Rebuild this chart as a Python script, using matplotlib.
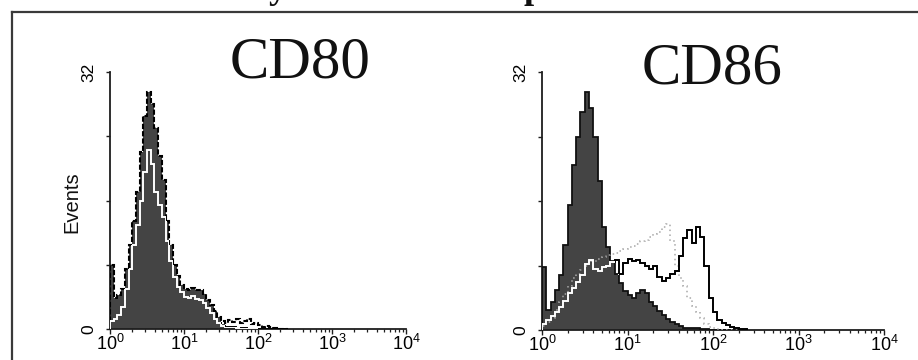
import numpy as np
import matplotlib
matplotlib.use("Agg")
import matplotlib.pyplot as plt
from matplotlib.ticker import FixedLocator, LogLocator, NullFormatter, FixedFormatter
from matplotlib.lines import Line2D
from matplotlib.transforms import offset_copy

plt.rcParams["font.family"] = ["Liberation Sans", "DejaVu Sans"]
plt.rcParams["mathtext.fontset"] = "custom"
plt.rcParams["mathtext.rm"] = "Liberation Sans"
plt.rcParams["mathtext.it"] = "Liberation Sans:italic"

# channel grid: 0.05-decade bins starting at 10^0
bin_width_decades = 0.05
n_bins = 48

# CD80 panel: filled control, its dashed outline (with tail) and the stained overlay
cd80_filled = [8.0, 3.8, 4.2, 5.0, 7.5, 10.5, 13.5, 17.0, 22.0, 26.5,
               29.5, 28.0, 25.0, 21.5, 18.5, 13.5, 10.5, 8.0, 6.6, 5.5,
               5.0, 4.9, 5.1, 4.8, 4.9, 4.4, 3.6, 3.0, 2.2, 1.5,
               0.6, 0.3, 0.2, 0.2, 0.2, 0.1, 0.1, 0.1, 0.1, 0.1,
               0, 0, 0, 0, 0, 0, 0, 0]
cd80_outline = [8.0, 3.8, 4.2, 5.0, 7.5, 10.5, 13.5, 17.0, 22.0, 26.5,
                29.5, 28.0, 25.0, 21.5, 18.5, 13.5, 10.5, 8.0, 6.6, 5.5,
                5.0, 4.9, 5.1, 4.8, 4.9, 4.4, 3.6, 3.0, 2.2, 1.5,
                1.0, 0.8, 1.1, 0.9, 1.2, 0.8, 1.0, 1.2, 0.6, 0.8,
                0.5, 0.3, 0.4, 0.2, 0.1, 0, 0, 0]
cd80_overlay = [1.0, 1.2, 1.8, 2.8, 5.0, 7.5, 10.5, 13.0, 16.0, 19.5,
                22.3, 20.5, 17.0, 15.5, 14.0, 11.0, 8.5, 6.5, 5.2, 4.6,
                4.0, 3.9, 4.1, 3.7, 3.6, 3.2, 2.6, 2.0, 1.2, 0.7,
                0.4, 0.3, 0.2, 0.2, 0.1, 0.1, 0.1, 0, 0, 0,
                0, 0, 0, 0, 0, 0, 0, 0]

# CD86 panel: filled control, stained overlay and a dotted second sample
cd86_filled = [7.8, 2.5, 3.5, 5.0, 6.8, 10.5, 15.5, 20.5, 24.0, 27.0,
               29.5, 27.5, 24.0, 18.5, 12.8, 10.3, 8.5, 7.0, 5.8, 4.8,
               4.3, 4.0, 4.6, 5.0, 4.6, 3.5, 3.0, 2.4, 1.8, 1.4,
               1.0, 0.7, 0.5, 0.3, 0.3, 0.2, 0.2, 0.1, 0.1, 0,
               0, 0, 0, 0, 0, 0, 0, 0]
cd86_overlay = [0.8, 1.3, 1.7, 2.2, 2.9, 3.6, 4.6, 5.2, 6.0, 6.8,
                8.2, 8.7, 7.6, 7.3, 7.8, 7.9, 8.4, 8.7, 7.0, 8.3,
                8.8, 8.6, 8.7, 8.3, 7.9, 7.6, 8.0, 6.6, 6.1, 6.4,
                6.9, 7.3, 9.2, 11.4, 12.4, 10.8, 12.8, 11.5, 8.0, 4.0,
                2.2, 1.3, 0.9, 0.6, 0.4, 0.25, 0.15, 0.1]
cd86_dotted = [0.5, 1.0, 1.5, 2.5, 3.5, 4.5, 5.5, 6.5, 7.0, 7.5,
               8.0, 8.5, 8.6, 8.8, 9.0, 9.3, 9.4, 9.6, 9.8, 10.0,
               10.3, 10.4, 10.7, 11.0, 11.2, 11.5, 11.9, 12.2, 12.8, 13.2,
               11.0, 8.0, 6.5, 5.5, 4.0, 3.0, 2.2, 1.5, 0.8, 0.4,
               0.2, 0.1, 0, 0, 0, 0, 0, 0]

panel_titles = ["CD80", "CD86"]
decade_labels = [r"$\mathregular{10^{0}}$", r"$\mathregular{10^{1}}$",
                 r"$\mathregular{10^{2}}$", r"$\mathregular{10^{3}}$",
                 r"$\mathregular{10^{4}}$"]
count_ticks = [0, 8, 16, 24, 32]
count_labels = ["0", "", "", "", "32"]

FILL = "#444444"
AXIS = "#1e1e1e"

edges = 10.0 ** (np.arange(n_bins + 1) * bin_width_decades)

W, H = 918, 360
fig = plt.figure(figsize=(W / 100, H / 100), dpi=100)


def px_axes(x0, y0, x1, y1):
    return fig.add_axes([x0 / W, 1 - y1 / H, (x1 - x0) / W, (y1 - y0) / H])


def style_axes(ax):
    ax.set_xscale("log")
    ax.set_xlim(1, 1e4)
    ax.set_ylim(0, 32)
    for s in ("top", "right"):
        ax.spines[s].set_visible(False)
    for s in ("left", "bottom"):
        ax.spines[s].set_color(AXIS)
        ax.spines[s].set_linewidth(1.3)
    ax.xaxis.set_major_locator(FixedLocator([1, 10, 100, 1000, 10000]))
    ax.xaxis.set_major_formatter(FixedFormatter(decade_labels))
    ax.xaxis.set_minor_locator(LogLocator(base=10, subs=range(2, 10)))
    ax.xaxis.set_minor_formatter(NullFormatter())
    ax.tick_params(axis="x", which="major", length=3.5, width=1.0, pad=0,
                   labelsize=13, color=AXIS)
    ax.tick_params(axis="x", which="minor", length=2.2, width=0.9, color=AXIS)
    ax.set_yticks(count_ticks)
    ax.set_yticklabels(count_labels, fontsize=12.5, rotation=90,
                       va="center", ha="right")
    ax.tick_params(axis="y", which="major", length=3, width=1.0, pad=7,
                   color=AXIS)


def draw_overlay(ax, values, fill_patch, lw=1.4):
    # black where it rises above the filled histogram, white where it lies inside it
    ax.stairs(values, edges, color="black", lw=lw, zorder=4)
    w = ax.stairs(values, edges, color="white", lw=lw, zorder=5)
    w.set_clip_path(fill_patch)


# left panel: CD80
ax1 = px_axes(110, 72, 406, 329)
style_axes(ax1)
f1 = ax1.stairs(cd80_filled, edges, fill=True, color=FILL, lw=0, zorder=2)
ax1.stairs(cd80_outline, edges, color="black", lw=1.5,
           linestyle=(0, (2.5, 1.0)), zorder=3)
draw_overlay(ax1, cd80_overlay, f1)

# right panel: CD86
ax2 = px_axes(542, 72, 884, 330)
style_axes(ax2)
f2 = ax2.stairs(cd86_filled, edges, fill=True, color=FILL, lw=0, zorder=2)
ax2.stairs(cd86_filled, edges, color="#111111", lw=1.3, zorder=3)
ax2.stairs(cd86_dotted, edges, color="#a8a8a8", lw=1.1,
           linestyle=(0, (1, 2.2)), zorder=3.5)
draw_overlay(ax2, cd86_overlay, f2)

# panel titles
fig.text(300 / W, 1 - 78 / H, panel_titles[0], family="Liberation Serif",
         fontsize=42.5, ha="center", va="baseline", color="#111111")
fig.text(712 / W, 1 - 84 / H, panel_titles[1], family="Liberation Serif",
         fontsize=42.5, ha="center", va="baseline", color="#111111")

# y-axis label
fig.text(72 / W, 1 - 202 / H, "Events", rotation=90, fontsize=14.5,
         ha="center", va="center", color="#111111")

# strip above the frame: only the descenders of the heading line reach into it
strip = px_axes(0, 0, W, 11)
strip.set_axis_off()
strip.set_xlim(0, W)
strip.set_ylim(0, 1)
above = offset_copy(strip.transData, fig=fig, x=0, y=2, units="dots")
for ch, xpos, align in (("y", 278, "center"), ("p", 524, "left")):
    strip.text(xpos, 1, ch, transform=above, family="Liberation Serif",
               weight="bold", fontsize=26, ha=align, va="baseline",
               color="#111111", clip_on=True)

# outer frame
fig.add_artist(Line2D([12 / W, 12 / W], [0, 1 - 12 / H], transform=fig.transFigure,
                      color="#3a3a3a", lw=1.6))
fig.add_artist(Line2D([12 / W, 1], [1 - 12 / H, 1 - 12 / H], transform=fig.transFigure,
                      color="#3a3a3a", lw=1.6))

fig.savefig("out.png", dpi=100, facecolor="white")
